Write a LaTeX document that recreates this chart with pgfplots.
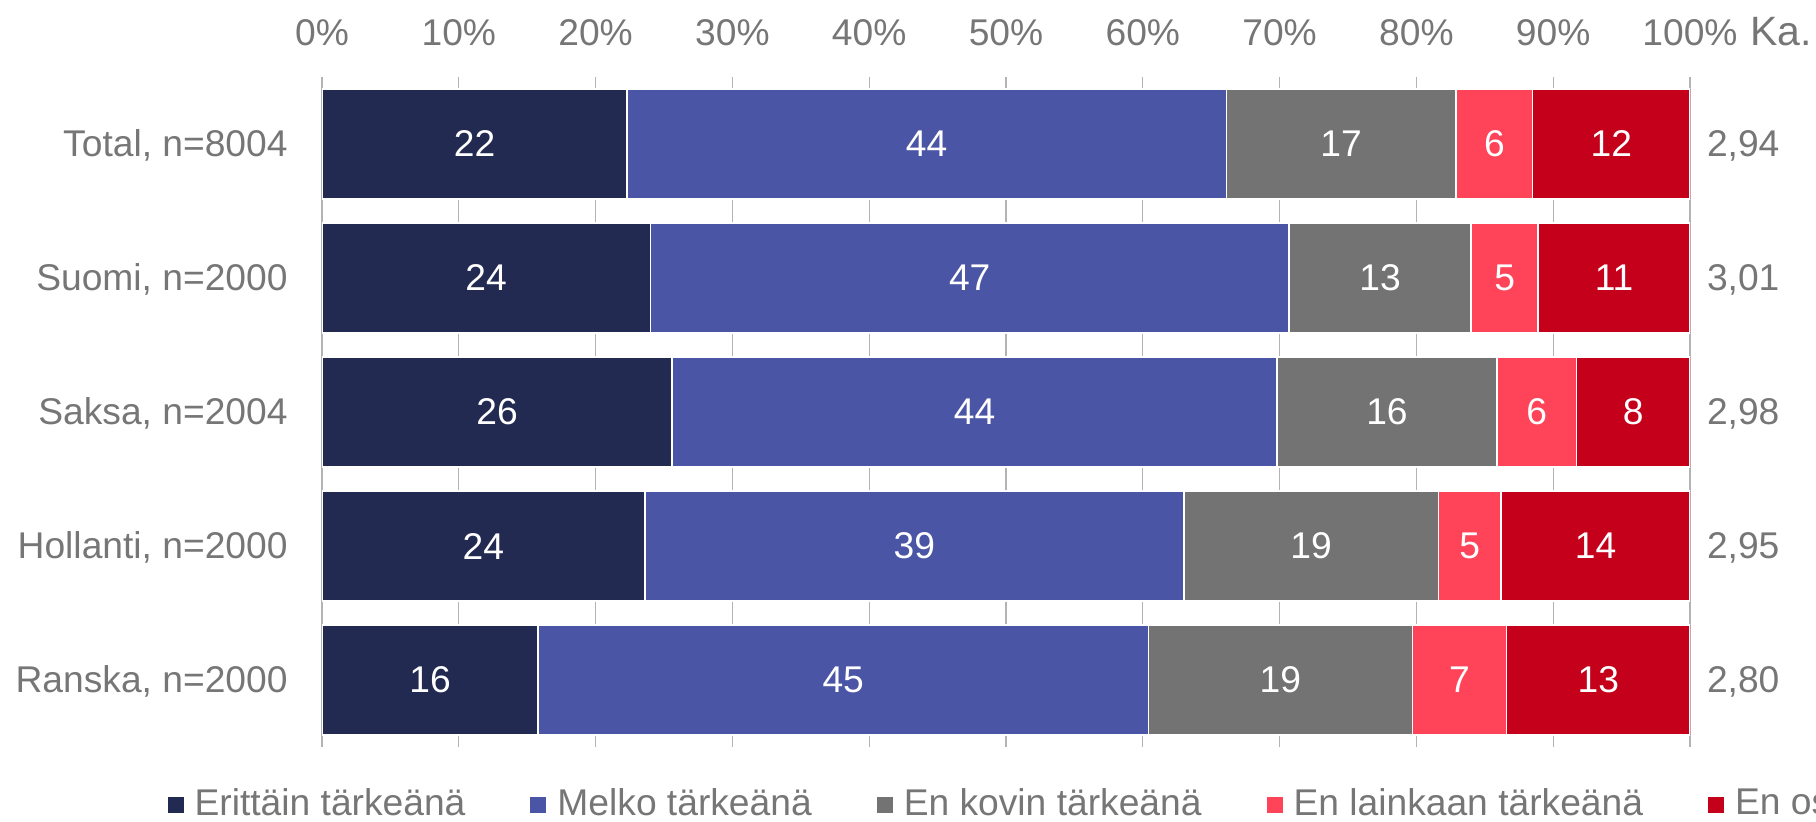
\documentclass[border=0pt]{standalone}
\usepackage{fontspec}
\setmainfont{Liberation Sans}
\usepackage{pgfplots}
\usepackage{pgfplotstable}
\pgfplotsset{compat=1.18}
\definecolor{cA}{HTML}{232A52}
\definecolor{cB}{HTML}{4A55A5}
\definecolor{cC}{HTML}{737373}
\definecolor{cD}{HTML}{FF4459}
\definecolor{cE}{HTML}{C4001A}
\definecolor{txt}{HTML}{767676}
\definecolor{gridc}{HTML}{B3B3B3}
\newcommand\f{\fontsize{18.6pt}{22pt}\selectfont}
\pgfplotstableread{
c a b d e f
0 22.3 43.8 16.8 5.6 11.5
1 24.0 46.7 13.3 4.9 11.1
2 25.6 44.2 16.1 5.8 8.3
3 23.6 39.4 18.6 4.6 13.8
4 15.8 44.6 19.3 6.9 13.4
}\data
\begin{document}
\begin{tikzpicture}
\path[use as bounding box] (0,0) rectangle (908pt,410.5pt);
\begin{axis}[
  at={(161pt,37pt)}, anchor=south west,
  scale only axis, width=684pt, height=335pt,
  xbar stacked, bar width=55pt,
  xmin=0, xmax=100, ymin=-0.5, ymax=4.5, y dir=reverse,
  clip mode=individual,
  axis line style={draw=none}, major tick length=0pt,
  xmajorgrids, grid style={gridc, line width=0.6pt},
  xtick={0,10,...,100}, xticklabel pos=upper,
  /pgf/number format/assume math mode=true,
  xticklabel={\pgfmathprintnumber{\tick}\%},
  xticklabel style={anchor=base, inner sep=0pt, yshift=15.65pt, font=\f, text=txt},
  ytick={0,1,2,3,4},
  yticklabels={{Total, n=8004},{Suomi, n=2000},{Saksa, n=2004},{Hollanti, n=2000},{Ranska, n=2000}},
  yticklabel style={anchor=base east, inner sep=0pt, xshift=-17pt, yshift=-6.4pt, font=\f, text=txt},
  every axis plot/.append style={draw=white, line width=0.75pt},
  point meta=explicit symbolic,
  nodes near coords={\pgfmathprintnumber[fixed,precision=0]{\pgfplotspointmeta}},
  every node near coord/.append style={anchor=center, inner sep=0pt, text=white, font=\f},
  legend columns=-1,
  legend image code/.code={\fill[#1,draw=none] (0pt,-5.5pt) rectangle (8pt,2.5pt);},
  legend style={at={(-0.11287,-0.1015)}, anchor=south west, draw=none, fill=none,
    inner sep=0pt, outer sep=0pt, font=\f, text=txt,
    nodes={inner sep=0pt, text depth=0pt},
    column sep=5.5pt,
    /tikz/every even column/.append style={column sep=32.5pt}},
]
\addplot[fill=cA] table[x=a, y=c, meta=a] {\data};
\addlegendentry{Erittäin tärkeänä}
\addplot[fill=cB] table[x=b, y=c, meta=b] {\data};
\addlegendentry{Melko tärkeänä}
\addplot[fill=cC] table[x=d, y=c, meta=d] {\data};
\addlegendentry{En kovin tärkeänä}
\addplot[fill=cD] table[x=e, y=c, meta=e] {\data};
\addlegendentry{En lainkaan tärkeänä}
\addplot[fill=cE] table[x=f, y=c, meta=f] {\data};
\addlegendentry{En osaa sanoa}
\node[anchor=base west, inner sep=0pt, xshift=8.3pt, yshift=-6.2pt, font=\f, text=txt] at (axis cs:100,0) {2,94};
\node[anchor=base west, inner sep=0pt, xshift=8.3pt, yshift=-6.2pt, font=\f, text=txt] at (axis cs:100,1) {3,01};
\node[anchor=base west, inner sep=0pt, xshift=8.3pt, yshift=-6.2pt, font=\f, text=txt] at (axis cs:100,2) {2,98};
\node[anchor=base west, inner sep=0pt, xshift=8.3pt, yshift=-6.2pt, font=\f, text=txt] at (axis cs:100,3) {2,95};
\node[anchor=base west, inner sep=0pt, xshift=8.3pt, yshift=-6.2pt, font=\f, text=txt] at (axis cs:100,4) {2,80};
\node[anchor=base west, inner sep=0pt, xshift=30pt, yshift=15.65pt, font=\fontsize{20.5pt}{24pt}\selectfont, text=txt] at (rel axis cs:1,1) {Ka.};
\end{axis}
\end{tikzpicture}
\end{document}
